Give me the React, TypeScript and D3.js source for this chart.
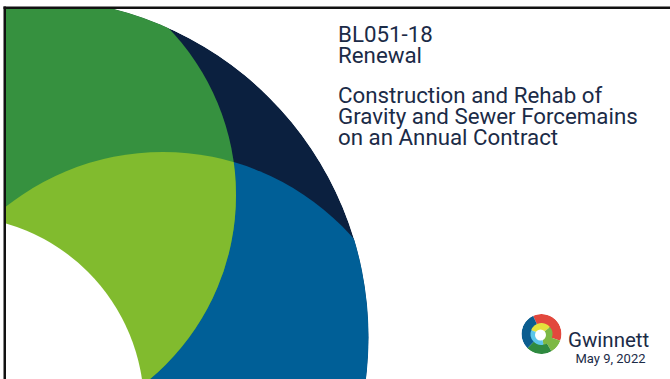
import React from "react";
import * as d3 from "d3";

const W = 670;
const H = 379;

// Text content
const titleLines = ["BL051-18", "Renewal"];
const subtitleLines = [
  "Construction and Rehab of",
  "Gravity and Sewer Forcemains",
  "on an Annual Contract",
];
const brandName = "Gwinnett";
const dateLabel = "May 9, 2022";

// Logo segments (degrees, 0 = 12 o'clock, clockwise)
const logoOuter = [
  { a0: -25, a1: 110, color: "#e2483d" },
  { a0: 110, a1: 150, color: "#7db844" },
  { a0: 150, a1: 225, color: "#2f8a40" },
  { a0: 225, a1: 335, color: "#0b5d8f" },
];
const logoInner = [
  { a0: -70, a1: 50, color: "#e4e23c" },
  { a0: 50, a1: 170, color: "#7db844" },
  { a0: 170, a1: 290, color: "#5cc6ea" },
];

const C = {
  darkGreen: "#36913f",
  navy: "#0b203f",
  blue: "#005f97",
  lightGreen: "#81bb2e",
  text: "#1b2b47",
};

// Circles
const outer = { cx: 30, cy: 337, r: 338.5 };
const mid = { cx: 163, cy: 405, r: 253 };
const green = { cx: -4, cy: 195, r: 240 };
const hole = { cx: -47, cy: 407, r: 191 };

export default function App() {
  const rad = (d: number) => (d * Math.PI) / 180;
  const outerArc = d3.arc<any>().innerRadius(10).outerRadius(20);
  const innerArc = d3.arc<any>().innerRadius(0).outerRadius(11);
  const logo = { x: 541.5, y: 334 };
  return (
    <svg
      width={W}
      height={H}
      style={{ position: "absolute", left: 0, top: 0, background: "#fff" }}
    >
      <defs>
        <clipPath id="slide">
          <rect x={6} y={9} width={W - 6} height={H - 9} />
        </clipPath>
        <clipPath id="outerClip">
          <circle cx={outer.cx} cy={outer.cy} r={outer.r} />
        </clipPath>
        <clipPath id="greenClip">
          <circle cx={green.cx} cy={green.cy} r={green.r} />
        </clipPath>
        <clipPath id="logoClip">
          <circle cx={0} cy={0} r={20} />
        </clipPath>
      </defs>
      <rect x={0} y={0} width={W} height={H} fill="#fff" />
      <g clipPath="url(#slide)">
        <g clipPath="url(#outerClip)">
          <circle cx={outer.cx} cy={outer.cy} r={outer.r} fill={C.navy} />
          <circle cx={mid.cx} cy={mid.cy} r={mid.r} fill={C.blue} />
          <g clipPath="url(#greenClip)">
            <rect x={0} y={0} width={W} height={H} fill={C.darkGreen} />
            <circle cx={mid.cx} cy={mid.cy} r={mid.r} fill={C.lightGreen} />
          </g>
          <circle cx={hole.cx} cy={hole.cy} r={hole.r} fill="#fff" />
        </g>
      </g>
      {/* slide border */}
      <line x1={3.5} x2={W} y1={7.75} y2={7.75} stroke="#111" strokeWidth={2.5} />
      <line x1={4.75} x2={4.75} y1={6.5} y2={H} stroke="#111" strokeWidth={2.5} />

      <g fontFamily="Roboto, 'Noto Sans', sans-serif" fill={C.text}>
        {titleLines.map((t, i) => (
          <text key={t} x={338} y={41.7 + i * 21.3} fontSize={22.3}>
            {t}
          </text>
        ))}
        {subtitleLines.map((t, i) => (
          <text key={t} x={338} y={103.3 + i * 20.9} fontSize={22.3}>
            {t}
          </text>
        ))}
        <text x={568} y={346.5} fontSize={20.5} fontWeight={400}>
          {brandName}
        </text>
        <text x={575.5} y={363.3} fontSize={13}>
          {dateLabel}
        </text>
      </g>

      <g transform={`translate(${logo.x},${logo.y})`}>
        <g clipPath="url(#logoClip)">
          {logoOuter.map((s, i) => (
            <path
              key={"o" + i}
              d={outerArc({ startAngle: rad(s.a0), endAngle: rad(s.a1) }) as string}
              fill={s.color}
            />
          ))}
          {logoInner.map((s, i) => (
            <path
              key={"i" + i}
              d={innerArc({ startAngle: rad(s.a0), endAngle: rad(s.a1) }) as string}
              fill={s.color}
            />
          ))}
          <circle cx={-1} cy={1} r={5.5} fill="#fff" />
        </g>
      </g>
    </svg>
  );
}
